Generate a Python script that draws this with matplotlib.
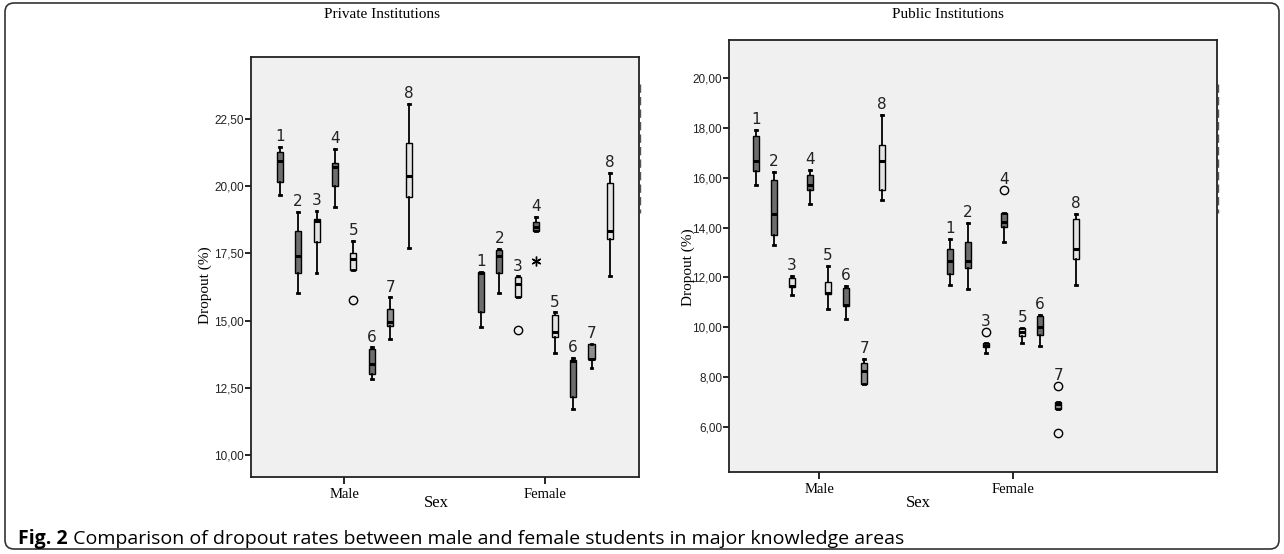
import numpy as np
import matplotlib
matplotlib.use('Agg')
import matplotlib.pyplot as plt
from matplotlib.patches import FancyBboxPatch
from matplotlib.lines import Line2D

# knowledge areas 1..8, two sexes per panel
areas = ['1', '2', '3', '4', '5', '6', '7', '8']
sexes = ['Male', 'Female']
area_colors = ['#6d6d6d', '#6d6d6d', '#e4e4e4', '#6d6d6d', '#e4e4e4', '#6d6d6d', '#8d8d8d', '#e4e4e4']

# (whislo, q1, med, q3, whishi)
priv_male = [
  (19.66, 20.15, 20.93, 21.27, 21.45),
  (16.04, 16.75, 17.39, 18.32, 19.03),
  (16.75, 17.91, 18.70, 18.77, 19.07),
  (19.22, 20.00, 20.71, 20.86, 21.38),
  (16.87, 16.87, 17.28, 17.50, 17.95),
  (12.84, 13.02, 13.40, 13.95, 14.00),
  (14.33, 14.81, 14.96, 15.41, 15.86),
  (17.69, 19.59, 20.37, 21.60, 23.06),
]
priv_female = [
  (14.74, 15.30, 16.75, 16.79, 16.80),
  (16.04, 16.75, 17.39, 17.61, 17.65),
  (15.86, 15.86, 16.34, 16.60, 16.64),
  (18.32, 18.32, 18.47, 18.66, 18.84),
  (13.81, 14.37, 14.59, 15.19, 15.30),
  (11.72, 12.16, 13.50, 13.54, 13.62),
  (13.25, 13.58, 13.58, 14.14, 14.14),
  (16.64, 18.02, 18.32, 20.11, 20.48),
]
priv_male_out = {4: [15.78]}
priv_female_out = {2: [14.63]}
priv_female_ext = {3: [17.20]}

pub_male = [
  (15.71, 16.27, 16.67, 17.68, 17.92),
  (13.30, 13.70, 14.55, 15.91, 16.23),
  (11.29, 11.62, 11.65, 11.98, 12.06),
  (14.95, 15.51, 15.71, 16.11, 16.31),
  (10.73, 11.33, 11.37, 11.82, 12.46),
  (10.33, 10.85, 10.89, 11.57, 11.65),
  (7.72, 7.72, 8.24, 8.56, 8.72),
  (15.11, 15.51, 16.67, 17.32, 18.52),
]
pub_female = [
  (11.69, 12.14, 12.66, 13.14, 13.54),
  (11.53, 12.38, 12.66, 13.42, 14.18),
  (8.96, 9.20, 9.24, 9.37, 9.37),
  (13.42, 14.02, 14.22, 14.59, 14.59),
  (9.37, 9.65, 9.81, 9.97, 9.97),
  (9.24, 9.69, 10.01, 10.45, 10.49),
  (6.72, 6.72, 6.92, 7.00, 7.00),
  (11.69, 12.74, 13.14, 14.35, 14.55),
]
pub_male_out = {}
pub_female_out = {2: [9.81], 3: [15.51], 6: [7.64, 5.75]}

priv_ticks = [10.0, 12.5, 15.0, 17.5, 20.0, 22.5]
priv_ticklabels = ['10,00', '12,50', '15,00', '17,50', '20,00', '22,50']
pub_ticks = [6, 8, 10, 12, 14, 16, 18, 20]
pub_ticklabels = ['6,00', '8,00', '10,00', '12,00', '14,00', '16,00', '18,00', '20,00']

serif = 'Liberation Serif'
sans = 'Liberation Sans'

fig = plt.figure(figsize=(12.84, 5.54), dpi=100)

# outer rounded frame, drawn in pixel units
bg = fig.add_axes([0, 0, 1, 1], zorder=-5)
bg.set_xlim(0, 1284)
bg.set_ylim(554, 0)
bg.axis('off')
bg.add_patch(FancyBboxPatch((5, 3), 1274, 546, boxstyle='round,pad=0,rounding_size=9',
                            fc='white', ec='#333333', lw=1.2))


def draw_panel(rect, xlim, ylim, ticks, ticklabels, spacing, width,
               male, female, outs, exts):
  ax = fig.add_axes(rect)
  ax.set_facecolor('#f0f0f0')
  offsets = (np.arange(len(areas)) - 3.5) * spacing
  for g, grp in enumerate([male, female]):
    stats = []
    for s in grp:
      stats.append(dict(whislo=s[0], q1=s[1], med=s[2], q3=s[3], whishi=s[4], fliers=[]))
    pos = g + offsets
    bp = ax.bxp(stats, positions=pos, widths=width, patch_artist=True,
                showfliers=False, capwidths=width * 0.3,
                boxprops=dict(edgecolor='black', linewidth=1.0),
                medianprops=dict(color='black', linewidth=2.2, solid_capstyle='butt'),
                whiskerprops=dict(color='black', linewidth=1.3),
                capprops=dict(color='black', linewidth=2.0))
    for patch, c in zip(bp['boxes'], area_colors):
      patch.set_facecolor(c)
    for i, s in enumerate(grp):
      top = s[4]
      o = outs[g].get(i, [])
      e = exts[g].get(i, [])
      if o:
        ax.plot([pos[i]] * len(o), o, 'o', mfc='none', mec='black', ms=6, mew=1.0)
      if e:
        ax.plot([pos[i]] * len(e), e, marker=(6, 2, 0), ls='none', color='black', ms=7, mew=1.0)
      top = max([top] + o)
      ax.annotate(areas[i], (pos[i], top), xytext=(0, 2), textcoords='offset points',
                  ha='center', va='bottom', fontsize=11, family='DejaVu Sans', color='#222222')
  ax.set_xlim(*xlim)
  ax.set_ylim(*ylim)
  ax.set_yticks(ticks)
  ax.set_yticklabels(ticklabels, family=sans, fontsize=8.5, color='#222222')
  ax.set_xticks([0, 1])
  ax.set_xticklabels(sexes, family=serif, fontsize=10.5)
  ax.tick_params(axis='y', length=4, width=1.2, pad=1)
  ax.tick_params(axis='x', length=5, width=1.2, pad=3)
  for sp in ax.spines.values():
    sp.set_linewidth(1.3)
    sp.set_color('#222222')
  return ax


draw_panel([251 / 1284, 1 - 477 / 554, 388 / 1284, 420 / 554], (-0.463, 1.465), (9.18, 24.8),
           priv_ticks, priv_ticklabels, 0.0916, 0.03,
           priv_male, priv_female, [priv_male_out, priv_female_out], [{}, priv_female_ext])
draw_panel([729 / 1284, 1 - 472 / 554, 488 / 1284, 432 / 554], (-0.464, 2.05), (4.19, 21.53),
           pub_ticks, pub_ticklabels, 0.0928, 0.031,
           pub_male, pub_female, [pub_male_out, pub_female_out], [{}, {}])

# scratchy marks at right edge of each panel
for x in (640, 1218):
  bg.add_line(Line2D([x, x], [84, 213], color='#555555', lw=1.0, ls=(0, (6, 3)), zorder=5))

fig.text(382 / 1284, 1 - 15 / 554, 'Private Institutions', ha='center', va='center',
         family=serif, fontsize=11)
fig.text(948 / 1284, 1 - 15 / 554, 'Public Institutions', ha='center', va='center',
         family=serif, fontsize=11)
fig.text(205 / 1284, 1 - 285 / 554, 'Dropout (%)', rotation=90, ha='center', va='center',
         family=serif, fontsize=11)
fig.text(688 / 1284, 1 - 267 / 554, 'Dropout (%)', rotation=90, ha='center', va='center',
         family=serif, fontsize=11)
fig.text(436 / 1284, 1 - 503 / 554, 'Sex', ha='center', va='center', family=serif, fontsize=12)
fig.text(918 / 1284, 1 - 503 / 554, 'Sex', ha='center', va='center', family=serif, fontsize=12)

t1 = fig.text(18 / 1284, 1 - 539 / 554, 'Fig. 2', ha='left', va='center',
              family='Open Sans', fontweight='bold', fontsize=14)
cap = bg.annotate(' Comparison of dropout rates between male and female students in major knowledge areas',
                  xy=(1, 0.5), xycoords=t1, ha='left', va='center',
                  family='Open Sans', fontsize=14)

fig.savefig('out.png', dpi=100)
